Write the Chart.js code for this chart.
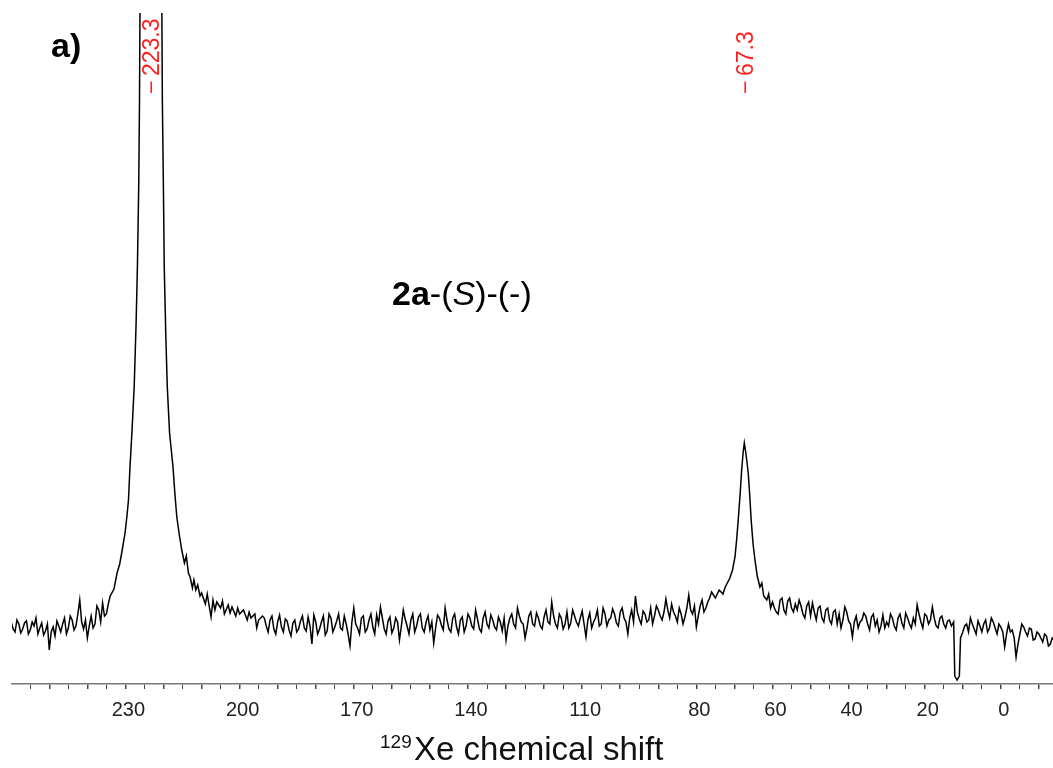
<!DOCTYPE html>
<html>
<head>
<meta charset="utf-8">
<title>129Xe spectrum</title>
<script src="https://cdn.jsdelivr.net/npm/chart.js@4.4.0/dist/chart.umd.min.js"></script>
<style>
  body { margin: 0; background: #fff; }
  .wrap { width: 1053px; height: 768px; position: relative; }
</style>
</head>
<body>
<div class="wrap"><canvas id="spectrum"></canvas></div>
<script>
// chemical shift (ppm)
const SHIFTS = [
  // left baseline
  260, 259.5, 259, 258.5, 258, 257.5, 257, 256.5, 256, 255.5,
  255, 254.5, 254, 253.5, 253, 252.5, 252, 251.5, 251, 250.5,
  250, 249.5, 249, 248.5, 248, 247.5, 247, 246.5, 246, 245.5,
  245, 244.5, 244, 243.5, 243, 242.5, 242, 241.5, 241, 240.5,
  240, 239.5, 239, 238.5, 238, 237.5, 237, 236.5, 236, 235.5,
  235, 234.5, 234,
  // peak at 223.3
  233, 232.2, 231.5, 230.8, 230.1, 229.6, 229.2, 228.8, 228.3, 227.7,
  227.2, 226.85, 226.5, 226.3, 226, 225, 224, 223.3, 222.5, 221.6,
  220.6, 220.3, 220, 219.8, 219.4, 219, 218.4, 217.5, 217, 216.5,
  215.8, 215.2, 214.5, 214, 213.45, 213, 212.4, 212, 211.5, 211,
  210.4, 210, 209, 208.5, 208, 207.5, 207, 206.5, 206, 205,
  204.5, 204, 203, 202.5, 202, 201, 200.5, 200, 199, 198,
  197.5, 197, 196, 195.5, 195, 194,
  // middle baseline
  193.5, 193, 192.5, 192, 191.5, 191, 190.5, 190, 189.5, 189,
  188.5, 188, 187.5, 187, 186.5, 186, 185.5, 185, 184.5, 184,
  183.5, 183, 182.5, 182, 181.5, 181, 180.5, 180, 179.5, 179,
  178.5, 178, 177.5, 177, 176.5, 176, 175.5, 175, 174.5, 174,
  173.5, 173, 172.5, 172, 171.5, 171, 170.5, 170, 169.5, 169,
  168.5, 168, 167.5, 167, 166.5, 166, 165.5, 165, 164.5, 164,
  163.5, 163, 162.5, 162, 161.5, 161, 160.5, 160, 159.5, 159,
  158.5, 158, 157.5, 157, 156.5, 156, 155.5, 155, 154.5, 154,
  153.5, 153, 152.5, 152, 151.5, 151, 150.5, 150, 149.5, 149,
  148.5, 148, 147.5, 147, 146.5, 146, 145.5, 145, 144.5, 144,
  143.5, 143, 142.5, 142, 141.5, 141, 140.5, 140, 139.5, 139,
  138.5, 138, 137.5, 137, 136.5, 136, 135.5, 135, 134.5, 134,
  133.5, 133, 132.5, 132, 131.5, 131, 130.5, 130, 129.5, 129,
  128.5, 128, 127.5, 127, 126.5, 126, 125.5, 125, 124.5, 124,
  123.5, 123, 122.5, 122, 121.5, 121, 120.5, 120, 119.5, 119,
  118.5, 118, 117.5, 117, 116.5, 116, 115.5, 115, 114.5, 114,
  113.5, 113, 112.5, 112, 111.5, 111, 110.5, 110, 109.5, 109,
  108.5, 108, 107.5, 107, 106.5, 106, 105.5, 105, 104.5, 104,
  103.5, 103, 102.5, 102, 101.5, 101, 100.5, 100, 99.5, 99,
  98.5, 98, 97.5, 97, 96.5, 96, 95.5, 95, 94.5, 94,
  93.5, 93, 92.5, 92, 91.5, 91, 90.5, 90, 89.5, 89,
  88.5, 88, 87.5, 87, 86.5, 86, 85.5, 85, 84.5, 84,
  83.5, 83, 82.5, 82, 81.5, 81, 80.5, 80, 79.5, 79,
  78.5, 78, 77.5, 77, 76.5, 76,
  // peak at 67.3
  75, 74, 73, 72.5, 72, 71.2, 70.5, 69.85, 69.4, 69,
  68.5, 68.1, 67.7, 67.4, 67, 66.7, 66.35, 66, 65.6, 65.1,
  64.6, 64, 63.3, 62.8, 62.3, 61.5, 61, 60.5, 60,
  // right baseline
  59.5, 59, 58.5, 58, 57.5, 57, 56.5, 56, 55.5, 55,
  54.5, 54, 53.5, 53, 52.5, 52, 51.5, 51, 50.5, 50,
  49.5, 49, 48.5, 48, 47.5, 47, 46.5, 46, 45.5, 45,
  44.5, 44, 43.5, 43, 42.5, 42, 41.5, 41, 40.5, 40,
  39.5, 39, 38.5, 38, 37.5, 37, 36.5, 36, 35.5, 35,
  34.5, 34, 33.5, 33, 32.5, 32, 31.5, 31, 30.5, 30,
  29.5, 29, 28.5, 28, 27.5, 27, 26.5, 26, 25.5, 25,
  24.5, 24, 23.5, 23, 22.5, 22, 21.5, 21, 20.5, 20,
  19.5, 19, 18.5, 18, 17.5, 17, 16.5, 16, 15.5, 15,
  14.5, 14, 13.5, 13,
  // negative glitch near 11.5
  12.4, 12.1, 11.5, 10.9, 10.6, 10,
  9.5, 9, 8.5, 8, 7.5, 7, 6.5, 6, 5.5, 5,
  4.5, 4, 3.5, 3, 2.5, 2, 1.5, 1, 0.5, 0,
  -0.5, -1, -1.5, -2, -2.5, -3, -3.5, -4, -4.5, -5,
  -5.5, -6, -6.5, -7, -7.5, -8, -8.5, -9, -9.5, -10,
  -10.5, -11, -11.5, -12, -12.5, -13, -13.5, -14
];

// signal intensity (a.u.), same order as SHIFTS
const INTENSITY = [
  62, 55, 52, 64, 60, 51, 55, 61, 63, 50,
  54, 62, 58, 66, 50, 56, 61, 49, 53, 60,
  34, 52, 57, 48, 63, 58, 52, 60, 66, 50,
  56, 68, 64, 54, 58, 70, 84, 62, 55, 64,
  46, 58, 68, 56, 60, 78, 74, 62, 81, 68,
  70, 80, 88,

  95, 111, 120, 135, 151, 168, 184, 217, 251, 297,
  360, 417, 500, 584, 800, 1400, 1900, 2000, 1900, 1400,
  800, 584, 490, 417, 350, 297, 251, 217, 190, 167,
  148, 134, 121, 128, 111, 107, 96, 104, 94, 99,
  88, 91, 80, 90, 78, 67, 84, 74, 82, 76,
  83, 70, 79, 71, 77, 68, 76, 70, 74, 64,
  72, 66, 70, 56, 64, 68,

  66, 58, 52, 64, 68, 55, 50, 62, 69, 57,
  52, 65, 63, 54, 48, 61, 64, 52, 55, 63,
  68, 56, 53, 67, 58, 40, 69, 62, 50, 55,
  62, 68, 49, 53, 70, 66, 52, 57, 63, 70,
  56, 54, 68, 60, 50, 38, 62, 76, 60, 56,
  50, 66, 68, 52, 55, 64, 70, 57, 50, 69,
  60, 77, 66, 55, 50, 63, 67, 51, 56, 66,
  62, 44, 58, 74, 65, 58, 50, 64, 70, 52,
  58, 67, 70, 56, 52, 62, 68, 54, 62, 41,
  56, 69, 66, 59, 54, 76, 64, 55, 52, 66,
  70, 57, 50, 64, 67, 52, 58, 70, 66, 58,
  55, 74, 65, 55, 52, 66, 72, 60, 56, 69,
  64, 57, 54, 67, 62, 53, 66, 44, 58, 66,
  70, 60, 56, 76, 68, 62, 60, 46, 56, 68,
  72, 60, 58, 71, 66, 58, 55, 67, 74, 62,
  60, 82, 68, 60, 56, 70, 66, 55, 60, 72,
  56, 61, 74, 68, 62, 58, 66, 73, 60, 47,
  64, 71, 56, 62, 66, 74, 58, 60, 76, 70,
  58, 64, 66, 75, 70, 61, 58, 72, 76, 66,
  62, 50, 66, 74, 62, 88, 72, 65, 60, 73,
  70, 62, 64, 76, 60, 68, 78, 74, 68, 64,
  72, 85, 74, 66, 80, 72, 68, 62, 76, 70,
  60, 67, 76, 89, 74, 70, 78, 57, 68, 78,
  84, 72, 76, 82, 86, 92,

  86, 94, 90, 96, 100, 106, 114, 127, 145, 164,
  190, 214, 232, 241, 231, 222, 210, 190, 164, 140,
  124, 108, 97, 101, 88, 84, 90, 76, 82,

  76, 72, 70, 84, 86, 74, 70, 83, 86, 76,
  72, 80, 74, 84, 78, 70, 66, 78, 82, 68,
  81, 72, 64, 76, 78, 66, 62, 74, 76, 64,
  60, 72, 74, 60, 70, 56, 64, 77, 72, 63,
  60, 47, 62, 68, 56, 62, 64, 71, 68, 60,
  54, 67, 70, 58, 64, 52, 58, 69, 56, 62,
  58, 70, 66, 58, 54, 66, 70, 61, 56, 71,
  66, 60, 56, 66, 60, 79, 70, 62, 56, 70,
  68, 60, 64, 77, 66, 58, 56, 66, 68, 60,
  56, 63, 64, 58,
  62, 8, 4, 8, 46, 52,
  58, 60, 52, 66, 60, 55, 50, 63, 58, 52,
  60, 64, 52, 56, 66, 62, 56, 50, 60, 57,
  52, 37, 50, 60, 52, 54, 46, 27, 40, 50,
  60, 57, 52, 48, 56, 55, 44, 45, 52, 50,
  46, 42, 50, 48, 38, 40, 46, 44
];

const TICK_LABELS = [230, 200, 170, 140, 110, 80, 60, 40, 20, 0];
const PEAK_LABELS = [223.3, 67.3];
const X_MIN = -13.7;
const X_MAX = 259.8;

const FONT = '"Liberation Sans", Arial, sans-serif';

// texts drawn on top of the chart: panel letter, sample name, axis title, peak labels
const annotations = {
  id: 'annotations',
  afterDraw(chart) {
    const ctx = chart.ctx;
    const xScale = chart.scales.x;
    ctx.save();
    ctx.fillStyle = '#000';
    ctx.textAlign = 'left';
    ctx.textBaseline = 'alphabetic';

    ctx.font = 'bold 34px ' + FONT;
    ctx.fillText('a)', 51, 57);

    let x = 392;
    const parts = [['bold 34px ', '2a'], ['34px ', '-('], ['italic 34px ', 'S'], ['34px ', ')-(-)']];
    parts.forEach(([f, t]) => {
      ctx.font = f + FONT;
      ctx.fillText(t, x, 305);
      x += ctx.measureText(t).width;
    });

    ctx.fillStyle = '#111';
    ctx.font = '19px ' + FONT;
    ctx.fillText('129', 380, 748);
    ctx.font = '33px ' + FONT;
    ctx.fillText('Xe chemical shift', 414, 760);

    // red peak picks, rotated
    ctx.fillStyle = '#ff2020';
    ctx.font = '23px ' + FONT;
    PEAK_LABELS.forEach(p => {
      const px = xScale.getPixelForValue(p);
      ctx.save();
      ctx.translate(px + 8, 76);
      ctx.rotate(-Math.PI / 2);
      ctx.fillText(p.toFixed(1), 0, 0);
      ctx.restore();
      ctx.save();
      ctx.translate(px + 8, 94);
      ctx.rotate(-Math.PI / 2);
      ctx.fillText('\u2212', 0, 0);
      ctx.restore();
    });
    ctx.restore();
  }
};

const spectrum = new Chart(document.getElementById('spectrum'), {
  type: 'line',
  data: {
    datasets: [{
      data: SHIFTS.map((s, i) => ({x: s, y: INTENSITY[i]})),
      borderColor: '#000',
      borderWidth: 1.5,
      pointRadius: 0,
      tension: 0,
    }]
  },
  options: {
    responsive: true,
    maintainAspectRatio: false,
    animation: false,
    layout: {padding: {left: 12, top: 13, right: 0, bottom: 0}},
    plugins: {legend: {display: false}, tooltip: {enabled: false}},
    scales: {
      x: {
        type: 'linear',
        reverse: true,
        min: X_MIN,
        max: X_MAX,
        afterBuildTicks: (scale) => {
          const ticks = [];
          for (let v = -10; v <= 255; v += 5) ticks.push({value: v});
          scale.ticks = ticks;
        },
        afterFit: (scale) => { scale.height = 84; },
        border: {display: true, color: '#777', width: 1.5},
        grid: {
          drawOnChartArea: false,
          drawTicks: true,
          tickLength: 5,
          tickColor: '#444',
          lineWidth: (c) => (c.tick && c.tick.value % 10 === 0 ? 1.5 : 1),
        },
        ticks: {
          autoSkip: false,
          maxRotation: 0,
          padding: 9,
          labelOffset: 3,
          color: '#222',
          font: {family: FONT, size: 20},
          callback: (v) => (TICK_LABELS.includes(v) ? String(v) : ''),
        }
      },
      y: {display: false, min: 0, max: 671}
    }
  },
  plugins: [annotations]
});
</script>
</body>
</html>
